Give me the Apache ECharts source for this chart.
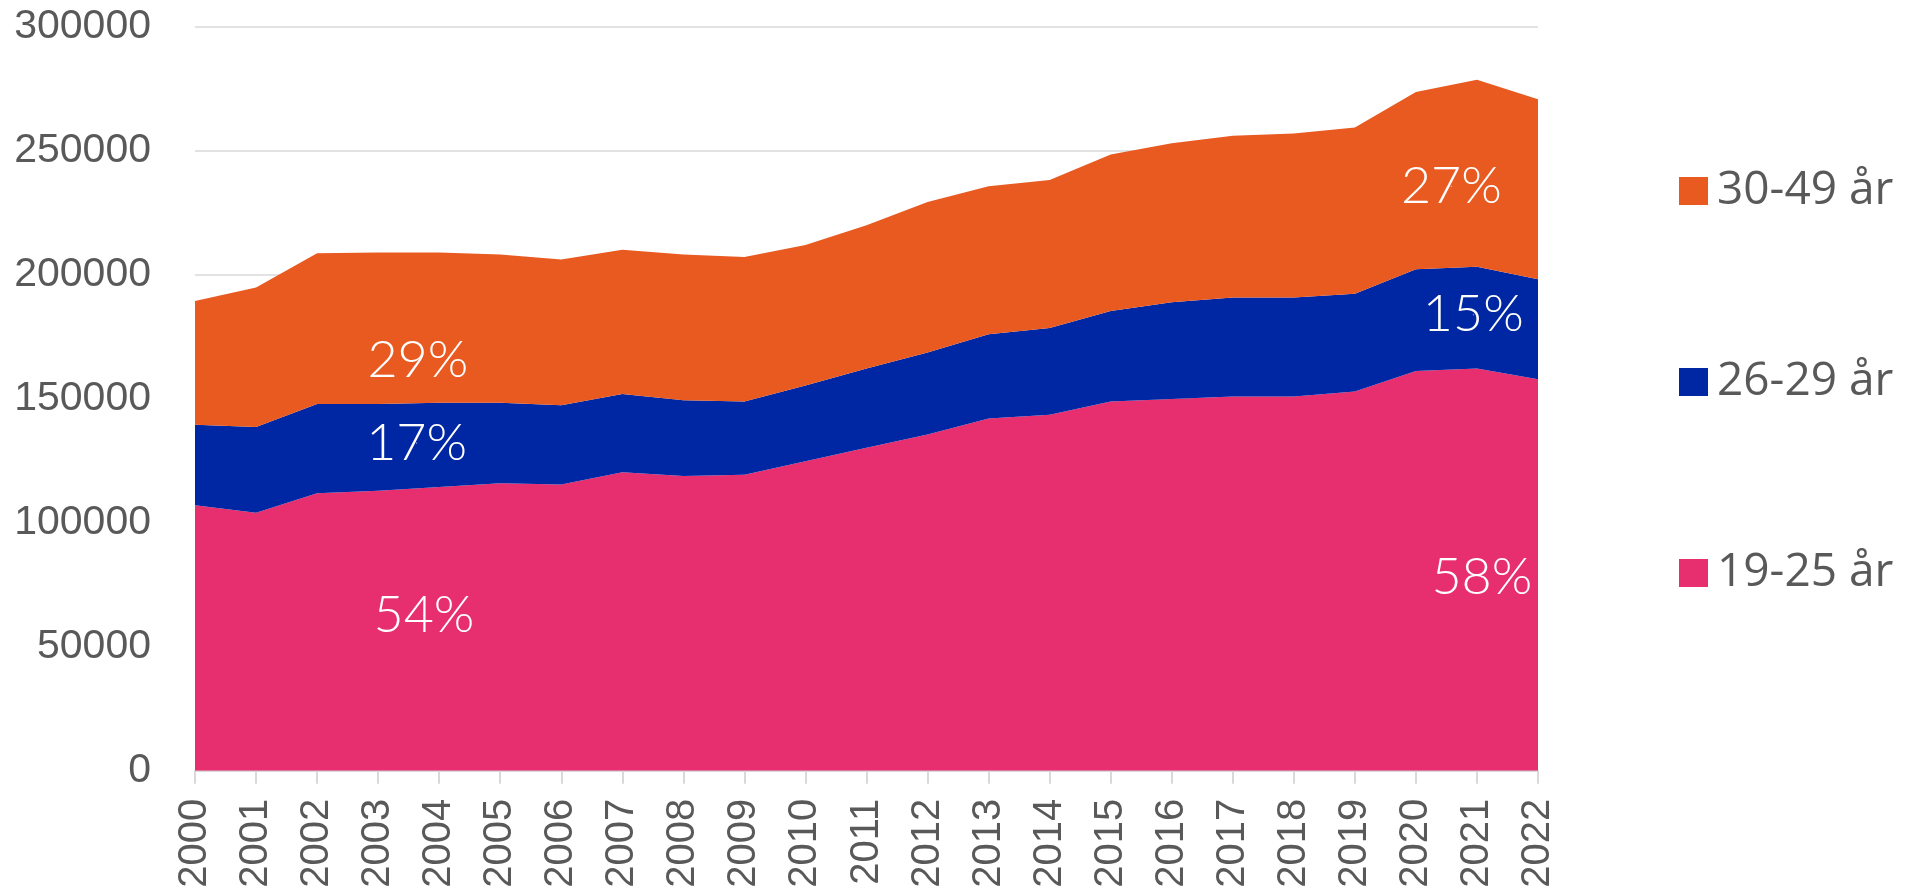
<!DOCTYPE html>
<html>
  <head>
    <meta charset="utf-8" />
    <script src="https://cdn.jsdelivr.net/npm/echarts@6/dist/echarts.min.js"></script>
    <style>
      html, body { margin: 0; padding: 0; background: #fff; }
      #main { width: 1918px; height: 892px; }
    </style>
  </head>

  <body>
    <div id="main"></div>
    <script type="text/javascript">
      // chart data
      var years = ['2000','2001','2002','2003','2004','2005','2006','2007','2008','2009','2010',
                   '2011','2012','2013','2014','2015','2016','2017','2018','2019','2020','2021','2022'];
      var age19to25 = [107000,104000,111900,112900,114400,115900,115400,120300,118800,119300,124800,
                       130200,135600,142000,143500,148900,149900,150900,150900,152900,161200,162200,157800];
      var age26to29 = [32500,34600,36000,35000,34000,32500,32000,31600,30600,29600,30500,
                       32000,33000,34000,35000,36500,39000,39900,39900,39400,41000,41000,40400];
      var age30to49 = [49900,56200,60700,61100,60600,59700,58700,58200,58700,58200,56700,
                       57700,60700,59700,59700,63100,64100,65200,66100,67100,71500,75400,72500];
      var yTicks = [0, 50000, 100000, 150000, 200000, 250000, 300000];

      // share labels: [year position, value, text]
      var shareLabels = [
        [3.65, 165700, '29%'],
        [3.63, 132100, '17%'],
        [3.75, 62600, '54%'],
        [20.58, 235700, '27%'],
        [20.94, 183900, '15%'],
        [21.08, 77900, '58%']
      ];

      var names = ['19-25 år', '26-29 år', '30-49 år'];
      var colors = ['#E72F70', '#0027A3', '#E95A20'];

      var myChart = echarts.init(document.getElementById('main'));

      function area(name, data, color) {
        return {
          name: name,
          type: 'line',
          stack: 'total',
          data: data,
          symbol: 'none',
          lineStyle: { width: 0 },
          itemStyle: { color: color },
          areaStyle: { color: color, opacity: 1 }
        };
      }

      var option = {
        animation: false,
        color: colors,
        legend: {
          orient: 'vertical',
          left: 1674,
          top: 163,
          itemWidth: 29,
          itemHeight: 28,
          itemGap: 145,
          icon: 'rect',
          data: ['30-49 år', '26-29 år', '19-25 år'],
          textStyle: { fontFamily: 'Open Sans', fontSize: 46, color: '#595959', padding: [0, 0, 0, 4] }
        },
        grid: { left: 195, right: 380, top: 26.7, bottom: 121.3 },
        xAxis: [{
          type: 'category',
          data: years,
          boundaryGap: false,
          axisLine: { lineStyle: { color: '#d9d9d9', width: 2 } },
          axisTick: { show: true, length: 13, lineStyle: { color: '#d9d9d9', width: 2 } },
          axisLabel: {
            rotate: 90,
            margin: 28,
            fontFamily: 'Liberation Sans',
            fontSize: 40,
            color: '#595959'
          }
        }, {
          type: 'value',
          min: 0,
          max: years.length - 1,
          show: false
        }],
        yAxis: {
          type: 'value',
          min: yTicks[0],
          max: yTicks[yTicks.length - 1],
          interval: 50000,
          axisLine: { show: false },
          axisTick: { show: false },
          splitLine: { lineStyle: { color: '#d9d9d9', width: 1.5 } },
          axisLabel: {
            margin: 44,
            fontFamily: 'Liberation Sans',
            fontSize: 41,
            color: '#595959',
            formatter: function (v) { return String(v); }
          }
        },
        series: [
          area(names[0], age19to25, colors[0]),
          area(names[1], age26to29, colors[1]),
          area(names[2], age30to49, colors[2]),
          {
            name: 'shares',
            type: 'scatter',
            xAxisIndex: 1,
            silent: true,
            symbol: 'circle',
            symbolSize: 1,
            itemStyle: { color: '#ffffff', opacity: 1 },
            z: 10,
            data: shareLabels.map(function (d) { return { value: [d[0], d[1]], name: d[2] }; }),
            label: {
              show: true,
              position: 'inside',
              formatter: '{b}',
              fontFamily: 'Lato',
              fontWeight: 300,
              fontSize: 52,
              color: '#ffffff',
              opacity: 1,
              textBorderWidth: 0
            }
          }
        ]
      };

      myChart.setOption(option);
    </script>
  </body>

</html>
